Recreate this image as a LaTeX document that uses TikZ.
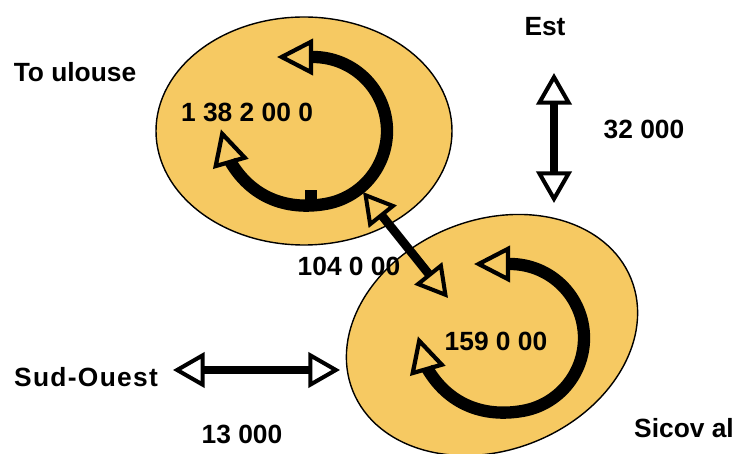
\documentclass[tikz,border=0pt]{standalone}
\usepackage{fontspec}
\setmainfont{Liberation Sans}
\usetikzlibrary{arrows.meta}
\definecolor{zonefill}{RGB}{246,201,98}
\tikzset{
  loopring/.pic={
    \draw[ring] (0,74) arc[start angle=90, end angle=-80, radius=74]
      to[out=190, in=-60] (-83,-30);
    \draw[ringtip] (0,74) -- ++(180:36);
    \draw[ringtip] (-83,-30) -- ++(106:33);
  }
}
\begin{document}
\begin{tikzpicture}[x=0.02cm, y=0.02cm,
  font=\fontsize{15}{17}\selectfont\bfseries,
  zone/.style={draw=black, line width=0.8pt, fill=zonefill},
  ring/.style={line width=7pt},
  ringtip/.style={line width=2.4pt, -{Triangle[open, length=20.5pt, width=20.5pt]}},
  flowtip/.tip={Triangle[open, length=18pt, width=20pt, line width=2.3pt]},
  flow/.style={line width=5pt, flowtip-flowtip},
  txt/.style={inner sep=0pt}]
\useasboundingbox (0,0) rectangle (736,453);
\clip (0,0) rectangle (736,453);
\draw[zone] (304,322) ellipse [x radius=148, y radius=114];
\draw[zone, rotate around={22:(492,118)}] (492,118) ellipse [x radius=150, y radius=115];
\pic (tring) at (313,322) {loopring};
\fill (305,263) rectangle (317,250);
\pic (sring) at (510,115) {loopring};
\coordinate (link a) at (363,261);
\coordinate (link b) at (448,155);
\coordinate (so a) at (173,83);
\coordinate (so b) at (340,83);
\coordinate (est a) at (554,380);
\coordinate (est b) at (554,250);
\draw[flow] (link a) -- (link b);
\draw[flow] (so a) -- (so b);
\draw[flow] (est a) -- (est b);
\node[txt] (toulouse) at (75,381) {To ulouse};
\node[txt] (tpop) at (247,341) {1 38 2 00 0};
\node[txt] (est) at (545,426) {Est};
\node[txt] (estval) at (644,324) {32 000};
\node[txt] (linkval) at (349,187) {104 0 00};
\node[txt] (spop) at (496,112) {159 0 00};
\node[txt] (sudouest) at (86,76) {\addfontfeature{LetterSpace=5}Sud-Ouest};
\node[txt] (soval) at (242,19) {13 000};
\node[txt] (sicoval) at (684,25) {Sicov al};
\end{tikzpicture}
\end{document}
